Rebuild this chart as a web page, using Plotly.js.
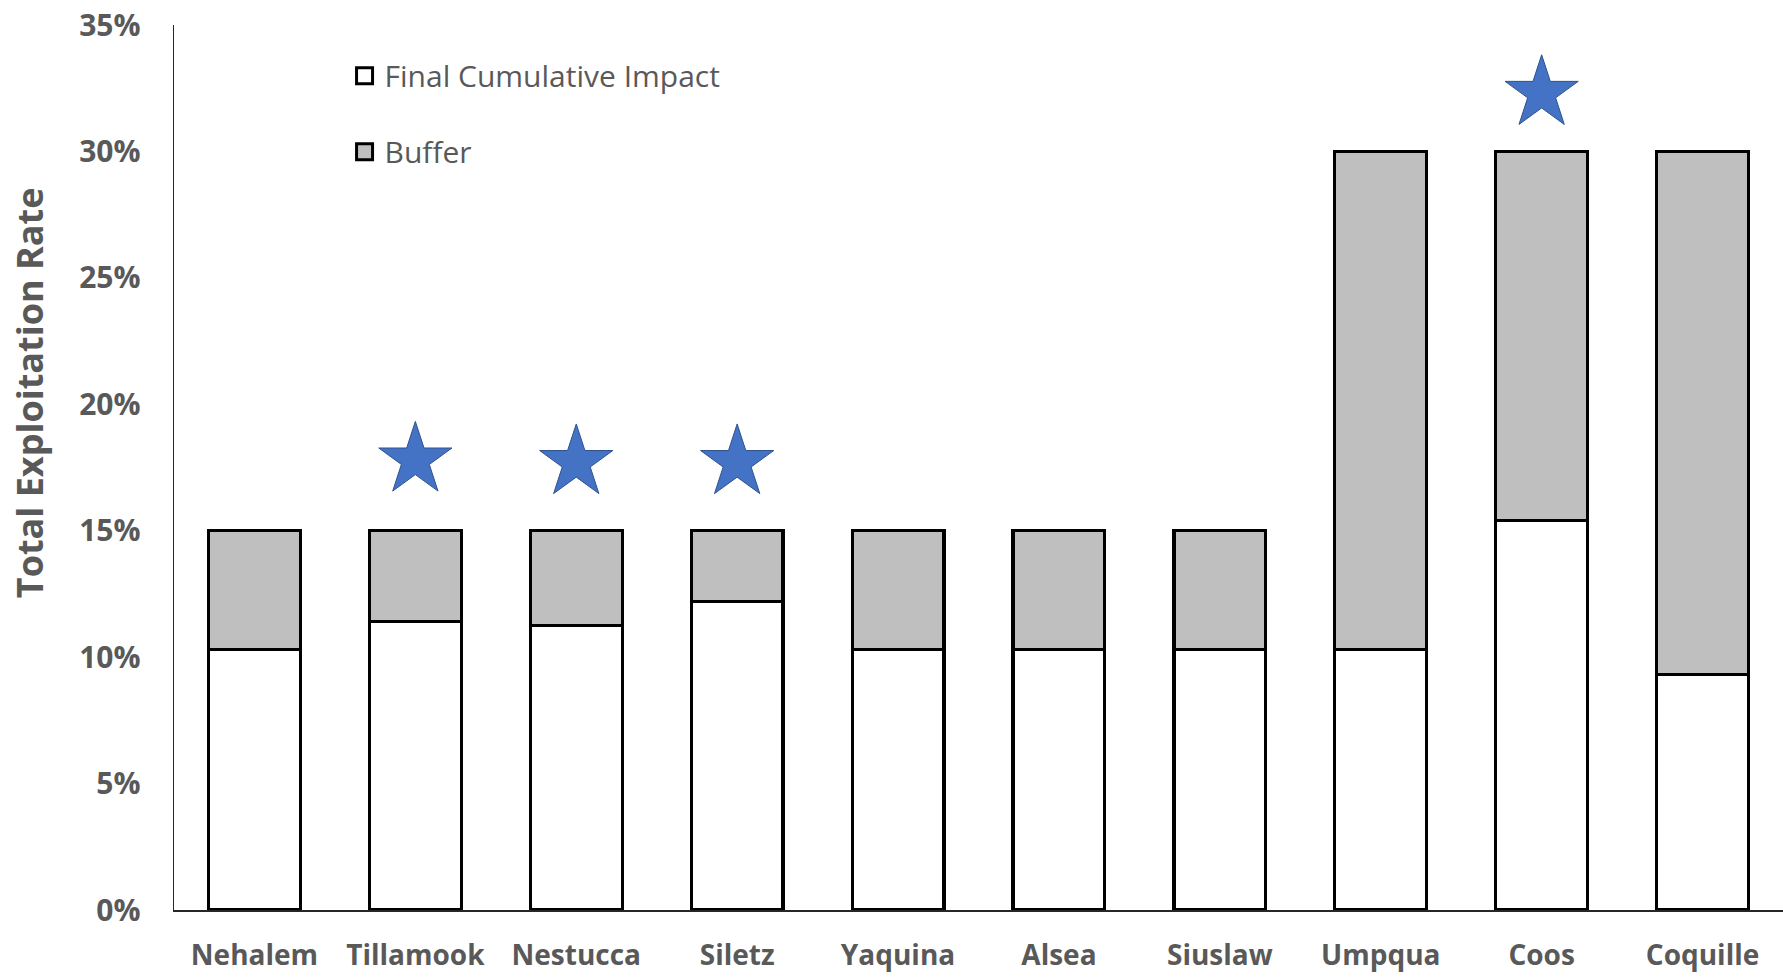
<!DOCTYPE html>
<html>
<head>
<meta charset="utf-8">
<script src="https://cdn.plot.ly/plotly-3.0.1.min.js"></script>
<style>html,body{margin:0;padding:0;background:#fff;}#chart{width:1783px;height:977px;}</style>
</head>
<body>
<div id="chart"></div>
<script>
const categories = ["Nehalem","Tillamook","Nestucca","Siletz","Yaquina","Alsea","Siuslaw","Umpqua","Coos","Coquille"];
const finalImpact = [0.103,0.114,0.1125,0.122,0.103,0.103,0.103,0.103,0.154,0.093];
const totalRate = [0.15,0.15,0.15,0.15,0.15,0.15,0.15,0.30,0.30,0.30];
const buffer = totalRate.map((t,i)=>+(t-finalImpact[i]).toFixed(4));
const starCategories = ["Tillamook","Nestucca","Siletz","Coos"];
const starValues = [0.178,0.177,0.177,0.323];
const yTickVals = [0,0.05,0.10,0.15,0.20,0.25,0.30,0.35];
const yTickText = ["0%","5%","10%","15%","20%","25%","30%","35%"];
const seriesNames = ["Final Cumulative Impact","Buffer"];
const seriesColors = ["#FFFFFF","#BFBFBF"];

const grey = "#595959";
const traces = [
  {type:"bar", name:seriesNames[0], x:categories, y:finalImpact, showlegend:false,
   marker:{color:seriesColors[0], line:{color:"#000000", width:3.2}}, hoverinfo:"y"},
  {type:"bar", name:seriesNames[1], x:categories, y:buffer, showlegend:false,
   marker:{color:seriesColors[1], line:{color:"#000000", width:3.2}}, hoverinfo:"y"},
  {type:"scatter", mode:"markers", x:starCategories, y:starValues, showlegend:false,
   marker:{symbol:"star", size:55, color:"#4472C4", line:{color:"#2F528F", width:1}}, hoverinfo:"skip"},
  // legend keys
  {type:"scatter", mode:"markers", name:seriesNames[0], x:[null], y:[null], legendgroup:"a",
   marker:{symbol:"square", size:16, color:seriesColors[0], line:{color:"#000000", width:3}}},
  {type:"scatter", mode:"markers", name:seriesNames[1], x:[null], y:[null], legendgroup:"b",
   marker:{symbol:"square", size:16, color:seriesColors[1], line:{color:"#000000", width:3}}}
];
const layout = {
  width:1783, height:977,
  margin:{l:174, r:0, t:25, b:67},
  paper_bgcolor:"#FFFFFF", plot_bgcolor:"#FFFFFF",
  barmode:"stack", bargap:0.43,
  showlegend:true,
  legend:{x:0.106, y:0.972, xanchor:"left", yanchor:"top", traceorder:"grouped", tracegroupgap:34,
          itemsizing:"trace",
          font:{family:"Open Sans", size:30, color:grey}, bgcolor:"rgba(0,0,0,0)"},
  xaxis:{type:"category", showgrid:false, zeroline:false, showline:true, linecolor:"#262626", linewidth:1.5,
         ticks:"", tickfont:{family:"Open Sans", size:28, color:grey, weight:"bold"}, ticklabelstandoff:20,
         automargin:false, fixedrange:true},
  yaxis:{range:[0,0.35], tickvals:yTickVals, ticktext:yTickText, showgrid:false, zeroline:false,
         showline:true, linecolor:"#262626", linewidth:1.5, ticks:"",
         tickfont:{family:"Open Sans", size:30, color:grey, weight:"bold"}, ticklabelstandoff:26,
         automargin:false, fixedrange:true},
  annotations:[{text:"Total Exploitation Rate", xref:"paper", yref:"paper", x:0, y:0.584,
                xshift:-145, xanchor:"center", yanchor:"middle", textangle:-90, showarrow:false,
                font:{family:"Open Sans", size:36, color:grey, weight:"bold"}}]
};
Plotly.newPlot("chart", traces, layout, {displayModeBar:false, staticPlot:true});
</script>
</body>
</html>
